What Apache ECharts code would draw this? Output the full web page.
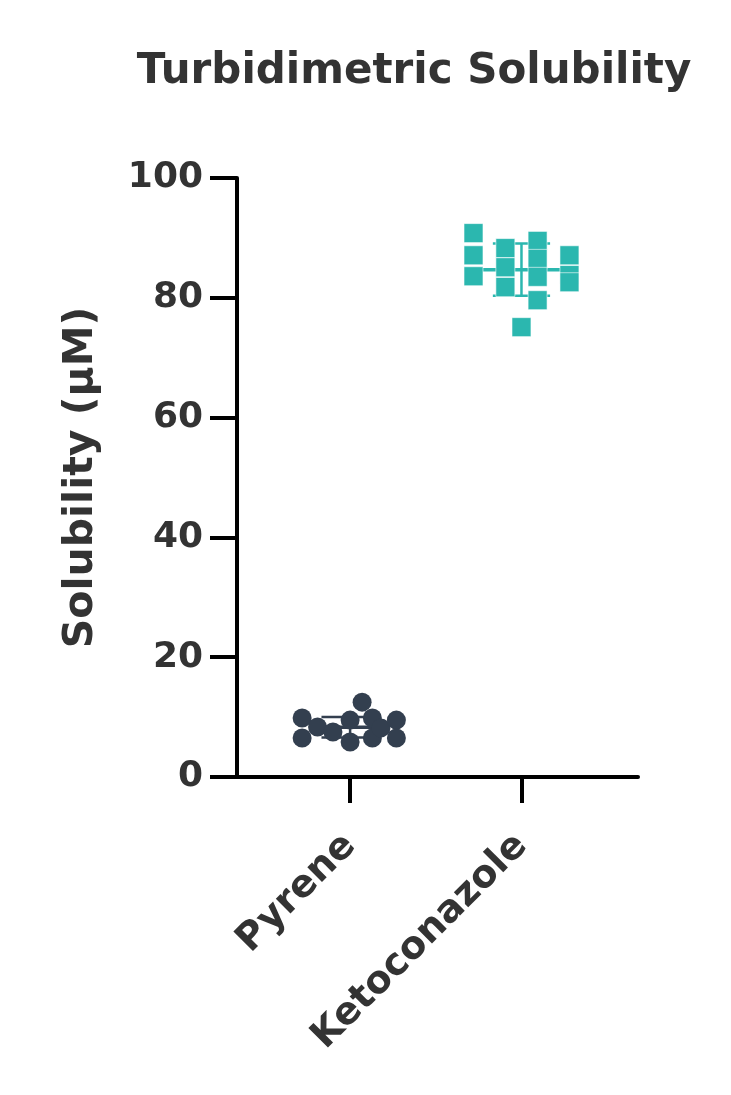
<!DOCTYPE html>
<html>
<head>
<meta charset="utf-8">
<script src="https://cdn.jsdelivr.net/npm/echarts@6/dist/echarts.min.js"></script>
<style>
html,body{margin:0;padding:0;background:#fff;}
#chart{width:731px;height:1095px;}
</style>
</head>
<body>
<div id="chart"></div>
<script>
// ---- data ----
const categories = ['Pyrene', 'Ketoconazole'];
const categoryPos = [1, 2];
const yTicks = [0, 20, 40, 60, 80, 100];

// Pyrene replicate points: horizontal scatter offset (category units) and solubility (µM)
const pyreneOffset = [-0.28, -0.28, -0.19, -0.10, 0.00, 0.00, 0.07, 0.13, 0.13, 0.18, 0.27, 0.27];
const pyreneValues = [9.85, 6.5, 8.35, 7.5, 9.5, 5.85, 12.5, 9.85, 6.5, 8.2, 9.5, 6.5];

// Ketoconazole replicate points
const ketoOffset = [-0.28, -0.28, -0.28, -0.094, -0.094, -0.094, 0.094, 0.094, 0.094, 0.094, 0.28, 0.28, 0.28, 0.0];
const ketoValues = [90.8, 87.1, 83.6, 88.3, 85.1, 81.8, 89.5, 86.5, 83.5, 79.6, 87.1, 83.8, 82.6, 75.1];

// mean and SD per group
const groupMean = [8.3, 84.7];
const groupSD = [1.7, 4.35];

const colors = ['#333f4f', '#2bb7af'];

const font = 'DejaVu Sans';
const chart = echarts.init(document.getElementById('chart'), null, {renderer: 'canvas'});

const pyreneData = pyreneValues.map((v, i) => [categoryPos[0] + pyreneOffset[i], v]);
const ketoData = ketoValues.map((v, i) => [categoryPos[1] + ketoOffset[i], v]);
const errData = categoryPos.map((p, i) => [p, groupMean[i], groupSD[i], i]);

chart.setOption({
  backgroundColor: '#fff',
  animation: false,
  title: {
    text: 'Turbidimetric Solubility',
    left: 409,
    top: 46,
    textAlign: 'center',
    textStyle: {fontFamily: font, fontWeight: 'bold', fontSize: 42, color: '#333'}
  },
  grid: {left: 237, right: 93, top: 178, bottom: 318, containLabel: false},
  xAxis: {
    type: 'value',
    min: 0.34,
    max: 2.68,
    splitLine: {show: false},
    axisLine: {show: true, lineStyle: {color: '#000', width: 4}},
    axisTick: {show: true, customValues: categoryPos, length: 26, lineStyle: {color: '#000', width: 4}},
    axisLabel: {
      customValues: categoryPos,
      formatter: v => categories[categoryPos.indexOf(Math.round(v))] || '',
      rotate: 45,
      align: 'right',
      verticalAlign: 'middle',
      margin: 63,
      fontFamily: font, fontWeight: 'bold', fontSize: 38, color: '#333'
    }
  },
  yAxis: {
    type: 'value',
    min: yTicks[0],
    max: yTicks[yTicks.length - 1],
    interval: 20,
    name: 'Solubility (μM)',
    nameLocation: 'middle',
    nameGap: 135,
    nameTextStyle: {fontFamily: font, fontWeight: 'bold', fontSize: 41, color: '#333'},
    splitLine: {show: false},
    axisLine: {show: true, lineStyle: {color: '#000', width: 4}},
    axisTick: {show: true, length: 27, lineStyle: {color: '#000', width: 4}},
    axisLabel: {margin: 34, fontFamily: font, fontWeight: 'bold', fontSize: 36, color: '#333'}
  },
  series: [
    {
      type: 'custom',
      z: 1,
      data: errData,
      renderItem: function (params, api) {
        const x = api.value(0), m = api.value(1), sd = api.value(2), gi = api.value(3);
        const c = colors[gi];
        const meanL = api.coord([x - 0.225, m]);
        const meanR = api.coord([x + 0.225, m]);
        const top = api.coord([x, m + sd]);
        const bot = api.coord([x, m - sd]);
        const wL1 = api.coord([x - 0.167, m + sd]);
        const wR1 = api.coord([x + 0.167, m + sd]);
        const wL2 = api.coord([x - 0.167, m - sd]);
        const wR2 = api.coord([x + 0.167, m - sd]);
        const st = {stroke: c, lineWidth: 2.5};
        return {
          type: 'group',
          children: [
            {type: 'line', shape: {x1: top[0], y1: top[1], x2: bot[0], y2: bot[1]}, style: st},
            {type: 'line', shape: {x1: wL1[0], y1: wL1[1], x2: wR1[0], y2: wR1[1]}, style: st},
            {type: 'line', shape: {x1: wL2[0], y1: wL2[1], x2: wR2[0], y2: wR2[1]}, style: st},
            {type: 'line', shape: {x1: meanL[0], y1: meanL[1], x2: meanR[0], y2: meanR[1]}, style: {stroke: c, lineWidth: 3.5}}
          ]
        };
      }
    },
    {
      type: 'scatter',
      z: 2,
      name: categories[0],
      symbol: 'circle',
      symbolSize: 19,
      data: pyreneData,
      itemStyle: {color: colors[0], opacity: 1}
    },
    {
      type: 'scatter',
      z: 2,
      name: categories[1],
      symbol: 'rect',
      symbolSize: 19,
      data: ketoData,
      itemStyle: {color: colors[1], opacity: 1, borderColor: '#fff', borderWidth: 0.6}
    }
  ]
});
</script>
</body>
</html>
